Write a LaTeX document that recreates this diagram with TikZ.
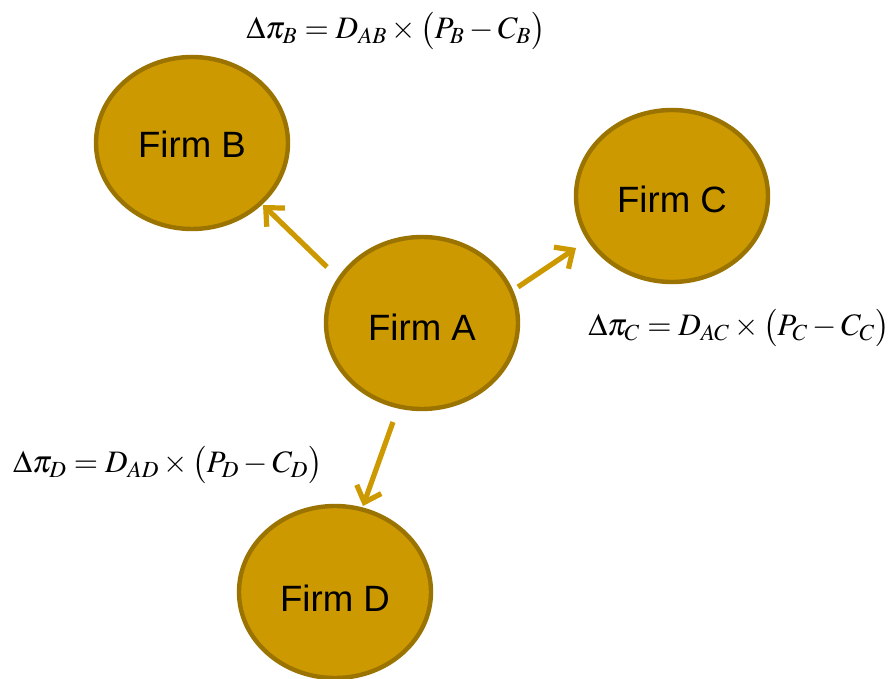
\documentclass[tikz,border=0pt]{standalone}
\usepackage{mathptmx}
\usepackage{fontspec}
\setmainfont{Liberation Sans}
\usetikzlibrary{arrows.meta,shapes.geometric}
\definecolor{firmfill}{HTML}{CC9900}
\definecolor{firmedge}{HTML}{9A7300}
\definecolor{arrowcol}{HTML}{CC9900}
\newcommand{\firmlabel}[2]{\raisebox{#1}[0pt][0pt]{#2}}
\begin{document}
\begin{tikzpicture}[x=0.5pt,y=-0.5pt,
  firm/.style={ellipse, draw=firmedge, fill=firmfill, line width=2.2pt,
    minimum width=96pt, minimum height=86pt, inner sep=0pt,
    font=\fontsize{18.3}{20}\selectfont, text=black},
  flow/.style={draw=arrowcol, line width=2.6pt,
    -{Straight Barb[length=7pt,width=13pt,line width=2.6pt]}},
  formula/.style={font=\fontsize{15.6}{18}\selectfont, inner sep=0pt}]
\useasboundingbox (0,0) rectangle (890,679);
\node[firm] (A) at (422,323) {\firmlabel{-9pt}{Firm A}};
\node[firm] (B) at (192,143) {\firmlabel{-7.5pt}{Firm B}};
\node[firm] (C) at (672,196) {\firmlabel{-8.5pt}{Firm C}};
\node[firm] (D) at (335,592) {\firmlabel{-9.5pt}{Firm D}};
\coordinate (ab1) at (327,267); \coordinate (ab2) at (263,205);
\coordinate (ac1) at (518,287); \coordinate (ac2) at (576,248);
\coordinate (ad1) at (393,422); \coordinate (ad2) at (363,506);
\draw[flow] (ab1) -- (ab2);
\draw[flow] (ac1) -- (ac2);
\draw[flow] (ad1) -- (ad2);
\node[formula] (fB) at (396,31) {$\Delta\pi_B = D_{AB}\times\bigl(P_B - C_B\bigr)$};
\node[formula] (fC) at (739,328) {$\Delta\pi_C = D_{AC}\times\bigl(P_C - C_C\bigr)$};
\node[formula] (fD) at (168,465) {$\Delta\pi_D = D_{AD}\times\bigl(P_D - C_D\bigr)$};
\end{tikzpicture}
\end{document}
